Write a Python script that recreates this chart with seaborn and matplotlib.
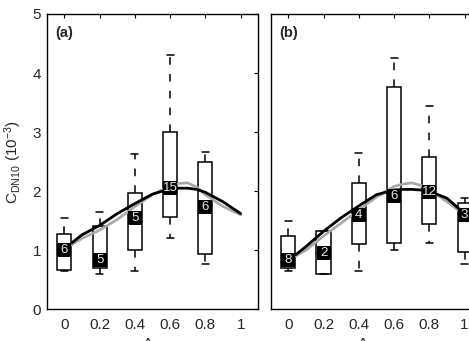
import numpy as np
import pandas as pd
import matplotlib
matplotlib.use("Agg")
import matplotlib.pyplot as plt
import seaborn as sns

# ---- data ----
A_vals = [0.0, 0.2, 0.4, 0.6, 0.8, 1.0]

# five-number summaries [low whisker, q1, median, q3, high whisker]
a_low = [0.64, 0.60, 0.65, 1.20, 0.77]
a_q1 = [0.67, 0.70, 1.00, 1.57, 0.93]
a_med = [1.01, 0.83, 1.54, 2.05, 1.74]
a_q3 = [1.27, 1.41, 1.97, 3.00, 2.49]
a_high = [1.55, 1.64, 2.63, 4.30, 2.66]
a_n = ["6", "5", "5", "15", "6"]

b_low = [0.65, 0.59, 0.65, 1.00, 1.12, 0.77]
b_q1 = [0.70, 0.59, 1.10, 1.12, 1.44, 0.97]
b_med = [0.83, 0.96, 1.59, 1.91, 1.98, 1.59]
b_q3 = [1.24, 1.33, 2.13, 3.77, 2.58, 1.80]
b_high = [1.49, 1.33, 2.64, 4.25, 3.44, 1.88]
b_n = ["8", "2", "4", "6", "12", "3"]

curve_x = [0.04, 0.1, 0.2, 0.3, 0.4, 0.5, 0.6, 0.65, 0.7, 0.75, 0.8, 0.9, 1.0]
a_black = [1.12, 1.26, 1.42, 1.62, 1.79, 1.95, 2.04, 2.05, 2.05, 2.03, 1.98, 1.82, 1.62]
a_gray = [1.09, 1.20, 1.34, 1.52, 1.74, 1.94, 2.09, 2.13, 2.14, 2.07, 1.94, 1.74, 1.60]
b_black = [0.92, 1.06, 1.32, 1.55, 1.75, 1.94, 2.02, 2.03, 2.03, 2.02, 2.00, 1.88, 1.62]
b_gray = [0.90, 1.00, 1.24, 1.46, 1.68, 1.90, 2.08, 2.12, 2.14, 2.10, 2.03, 1.82, 1.60]

x_ticks = [0, 0.2, 0.4, 0.6, 0.8, 1]
x_ticklabels = ["0", "0.2", "0.4", "0.6", "0.8", "1"]
y_ticks = [0, 1, 2, 3, 4, 5]

# ---- style ----
sns.set_style("white")
plt.rcParams["font.family"] = ["Liberation Sans", "DejaVu Sans"]
plt.rcParams["mathtext.fontset"] = "custom"
plt.rcParams["mathtext.rm"] = "Liberation Sans"
plt.rcParams["mathtext.it"] = "Liberation Sans:italic"
plt.rcParams["mathtext.bf"] = "Liberation Sans:bold"

fig = plt.figure(figsize=(4.69, 3.41), dpi=100)
ax_a = fig.add_axes([0.0996, 0.093, 0.4512, 0.866])
ax_b = fig.add_axes([0.577, 0.093, 0.4512, 0.866])


def long_form(xs, lo, q1, med, q3, hi):
    rows = []
    for i, x in enumerate(xs):
        for v in (lo[i], q1[i], med[i], q3[i], hi[i]):
            rows.append({"A": x, "C": v})
    return pd.DataFrame(rows)


def draw_panel(ax, xs, lo, q1, med, q3, hi, ns, black, gray, tag, show_ylab,
               xlab_pos):
    df = long_form(xs, lo, q1, med, q3, hi)
    sns.boxplot(data=df, x="A", y="C", native_scale=True, width=0.4,
                whis=(0, 100), color="white", linecolor="black", linewidth=1.1,
                fliersize=0, saturation=1,
                whiskerprops={"linestyle": (0, (5, 6))},
                medianprops={"color": "black"},
                ax=ax)
    cdf = pd.DataFrame({"x": curve_x, "black": black, "gray": gray})
    sns.lineplot(data=cdf, x="x", y="gray", color="#a8a8a8", linewidth=1.9,
                 ax=ax, zorder=4)
    sns.lineplot(data=cdf, x="x", y="black", color="black", linewidth=2.0,
                 ax=ax, zorder=5)
    ax.scatter(xs, med, marker="s", s=110, color="black", zorder=6,
               linewidths=0)
    for x, m, n in zip(xs, med, ns):
        ax.text(x, m, n, color="#e8e8e8", fontsize=9.5, ha="center",
                va="center", zorder=7)
    ax.set_xlim(-0.1, 1.1)
    ax.set_ylim(0, 5)
    ax.set_xticks(x_ticks)
    ax.set_xticklabels(x_ticklabels)
    ax.set_yticks(y_ticks)
    ax.tick_params(direction="in", top=True, right=True, length=3,
                   width=0.8, labelsize=11, color="black")
    ax.tick_params(axis="x", pad=6)
    ax.tick_params(axis="y", pad=4)
    for s in ax.spines.values():
        s.set_color("black")
        s.set_linewidth(1.0)
    ax.set_xlabel("A", fontsize=11, labelpad=3)
    ax.xaxis.set_label_coords(xlab_pos, -0.095)
    if show_ylab:
        ax.set_ylabel("C$_{\\mathrm{DN10}}$ (10$^{-3}$)", fontsize=11,
                      labelpad=6)
    else:
        ax.set_ylabel("")
        ax.set_yticklabels([])
    ax.text(0.04, 0.935, tag, transform=ax.transAxes, fontsize=10.5,
            fontweight="bold", ha="left", va="center")


draw_panel(ax_a, A_vals[:5], a_low, a_q1, a_med, a_q3, a_high, a_n,
           a_black, a_gray, "(a)", True, 0.479)
draw_panel(ax_b, A_vals, b_low, b_q1, b_med, b_q3, b_high, b_n,
           b_black, b_gray, "(b)", False, 0.436)

fig.savefig("out.png", dpi=100)
